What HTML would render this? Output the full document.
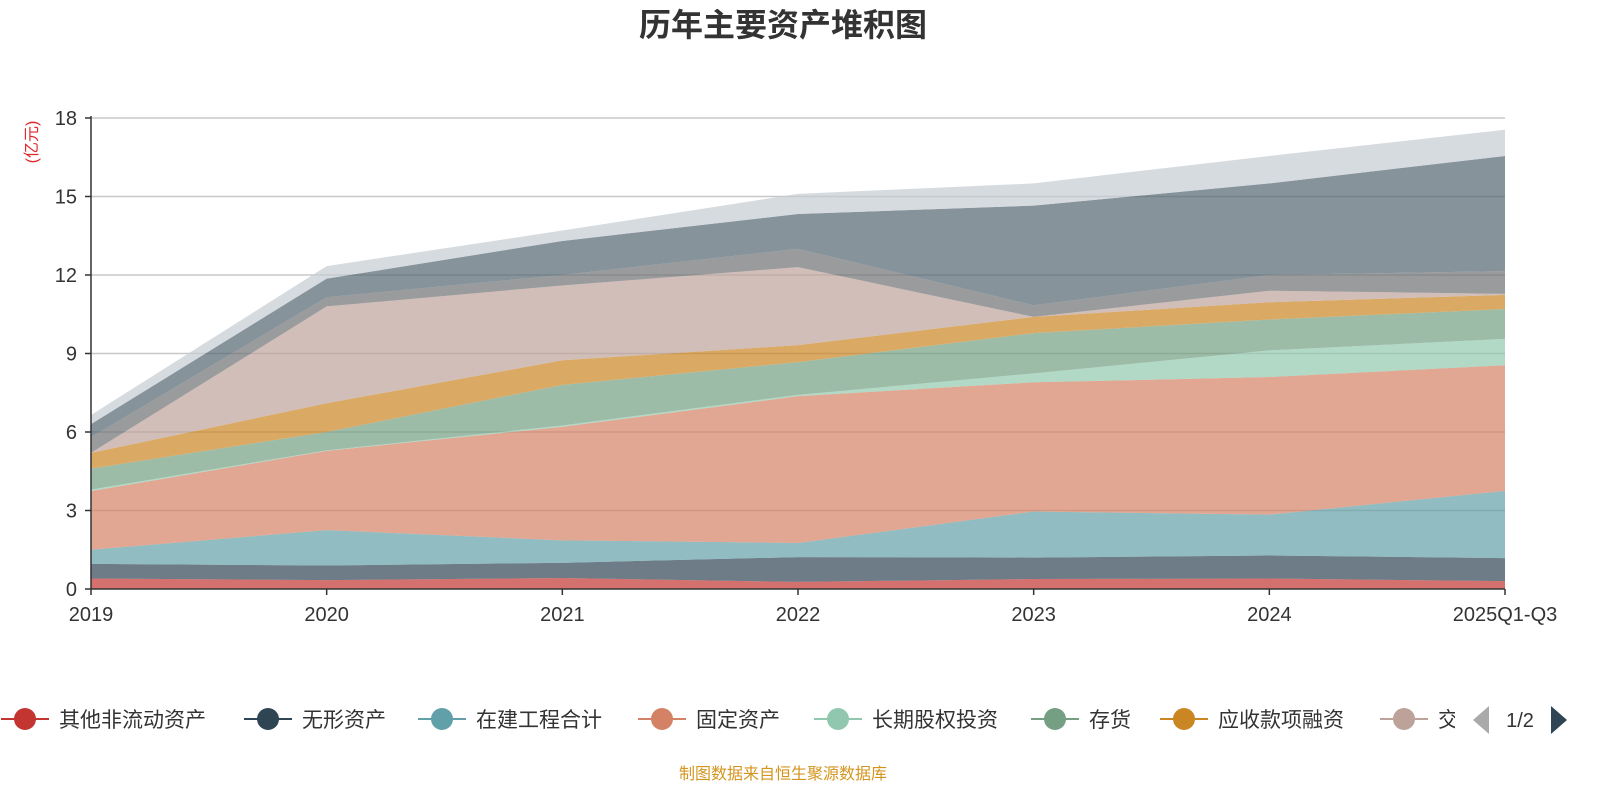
<!DOCTYPE html>
<html><head><meta charset="utf-8">
<style>
html,body{margin:0;padding:0;background:#fff;width:1600px;height:800px;overflow:hidden;}
svg text{font-family:"Liberation Sans","Noto Sans CJK SC",sans-serif;}
</style></head>
<body>
<svg id="chart" width="1600" height="800" xmlns="http://www.w3.org/2000/svg">
<text x="783" y="36" text-anchor="middle" font-size="32" font-weight="bold" fill="#333">历年主要资产堆积图</text>
<text transform="translate(37,142) rotate(-90)" text-anchor="middle" font-size="16" fill="#e0262a">(亿元)</text>
<g id="grid"></g>
<g id="areas"></g>
<g id="axes"></g>
<g id="legend"></g>
<text x="1520" y="727" text-anchor="middle" font-size="20" fill="#333">1/2</text>
<polygon points="1489,706 1489,734 1473,720" fill="#aaa"/>
<polygon points="1551,706 1551,734 1567,720" fill="#2f4554"/>
<text x="783" y="779" text-anchor="middle" font-size="16" fill="#d4951f">制图数据来自恒生聚源数据库</text>
</svg>
<script>
const categories = ["2019","2020","2021","2022","2023","2024","2025Q1-Q3"];
const seriesNames = ["其他非流动资产","无形资产","在建工程合计","固定资产","长期股权投资","存货","应收款项融资","交易性金融资产","其他1","其他2","其他3"];
// values per series (亿元), derived from stacked tops
const s0 = [0.40,0.34,0.42,0.27,0.38,0.40,0.30];
const s1 = [0.56,0.56,0.58,0.95,0.82,0.88,0.88];
const s2 = [0.54,1.35,0.86,0.54,1.76,1.56,2.57];
const s3 = [2.24,3.03,4.34,5.61,4.94,5.26,4.80];
const s4 = [0.06,0.02,0.05,0.05,0.34,1.02,1.01];
const s5 = [0.80,0.70,1.55,1.25,1.54,1.18,1.14];
const s6 = [0.60,1.10,0.94,0.65,0.62,0.66,0.54];
const s7 = [0.00,3.70,2.86,2.98,0.00,0.44,0.04];
const s8 = [0.60,0.35,0.40,0.70,0.44,0.60,0.87];
const s9 = [0.50,0.71,1.30,1.33,3.81,3.50,4.40];
const s10 = [0.35,0.48,0.40,0.77,0.85,1.05,1.00];
const seriesValues = [s0,s1,s2,s3,s4,s5,s6,s7,s8,s9,s10];
const yTicks = [0,3,6,9,12,15,18];
const colors = ["#c23531","#2f4554","#61a0a8","#d48265","#91c7ae","#749f83","#ca8622","#bda29a","#6e7074","#546570","#c4ccd3"];
const NS="http://www.w3.org/2000/svg";
const X0=91,X1=1505,Y0=589,Y1=118,YMAX=18;
function xs(i){return X0+(X1-X0)*i/(categories.length-1);}
function ys(v){return Y0-(Y0-Y1)*v/YMAX;}
function mk(t,a){const e=document.createElementNS(NS,t);for(const k in a)e.setAttribute(k,a[k]);return e;}
const grid=document.getElementById('grid'),axes=document.getElementById('axes'),areas=document.getElementById('areas'),legend=document.getElementById('legend');
yTicks.forEach(t=>{
  if(t>0){const l=mk('line',{x1:X0,x2:X1,y1:ys(t),y2:ys(t),stroke:'#c8c8c8','stroke-width':1.5});
  
  
  grid.appendChild(l);}
  const tk=mk('line',{x1:X0-6,x2:X0,y1:ys(t),y2:ys(t),stroke:'#333','stroke-width':1.5});
  
  
  axes.appendChild(tk);
  const tx=mk('text',{x:X0-14,y:ys(t)+7,'text-anchor':'end','font-size':20,fill:'#333'});
  tx.textContent=t;
  
  
  axes.appendChild(tx);
});
let base=categories.map(()=>0);
seriesValues.forEach((vals,si)=>{
  const top=base.map((b,i)=>b+vals[i]);
  let d='M'+top.map((v,i)=>xs(i)+','+ys(v)).join(' L');
  for(let i=categories.length-1;i>=0;i--)d+=' L'+xs(i)+','+ys(base[i]);
  d+='Z';
  const p=mk('path',{d:d,fill:colors[si],'fill-opacity':0.7});
  
  
  areas.appendChild(p);
  base=top;
});
axes.appendChild(mk('line',{x1:X0,x2:X0,y1:Y1-2,y2:Y0,stroke:'#333','stroke-width':1.5}));
axes.appendChild(mk('line',{x1:X0,x2:X1,y1:Y0,y2:Y0,stroke:'#333','stroke-width':1.5}));
categories.forEach((c,i)=>{
  const tk=mk('line',{x1:xs(i),x2:xs(i),y1:Y0,y2:Y0+6,stroke:'#333','stroke-width':1.5});
  
  
  axes.appendChild(tk);
  const tx=mk('text',{x:xs(i),y:621,'text-anchor':'middle','font-size':20,fill:'#333'});
  tx.textContent=c;
  
  
  axes.appendChild(tx);
});
const legendX=[25,268,442,662,838,1055,1184,1404];
for(let i=0;i<8;i++){
  const g=mk('g',{});
  
  
  const cx=legendX[i];
  g.appendChild(mk('line',{x1:cx-24,x2:cx+24,y1:719,y2:719,stroke:colors[i],'stroke-width':2}));
  g.appendChild(mk('circle',{cx:cx,cy:719,r:11,fill:colors[i]}));
  const t=mk('text',{x:cx+34,y:727,'font-size':21,fill:'#333'});
  t.textContent=i<7?seriesNames[i]:'交';
  g.appendChild(t);
  legend.appendChild(g);
}
const clip=mk('rect',{x:1455,y:700,width:20,height:40,fill:'#fff'});
legend.appendChild(clip);
</script>
</body></html>
